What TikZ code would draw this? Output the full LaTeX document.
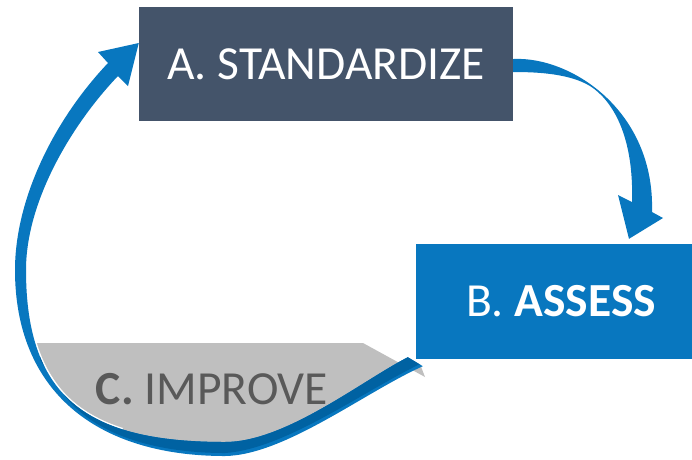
\documentclass[tikz,border=0pt]{standalone}
\usepackage{fontspec}
\setmainfont{Carlito}
\usetikzlibrary{calc}
\definecolor{slate}{HTML}{44546A}
\definecolor{flowblue}{HTML}{0877BF}
\definecolor{flowdark}{HTML}{0062A2}
\definecolor{improvegray}{HTML}{BFBFBF}
\definecolor{improvetext}{HTML}{595959}
\tikzset{
  stagefont/.style={font=\fontsize{47.5}{52}\selectfont},
  stagebox/.style={stagefont, inner sep=0pt, text=white},
  flowarrow/.style={fill=flowblue},
  flowside/.style={fill=flowdark},
  improvepanel/.style={fill=improvegray},
}
% outline of the return arc (B back to A), with its head
\def\returnband{(ca-out) .. controls (365,392) and (285,455) .. (225,456)
  .. controls (95,456) and (15,390) .. (15,270)
  .. controls (15,200) and (53,121) .. (108,63)
  -- (98,52) -- (ca-tip) -- (128,86) -- (118,76)
  .. controls (73,123) and (26,200) .. (26,270)
  .. controls (26,400) and (90,442) .. (225,442)
  .. controls (285,442) and (360,382) .. (ca-in) -- cycle}
\begin{document}
\begin{tikzpicture}[x=1pt,y=-1pt]
\useasboundingbox (0,0) rectangle (692,459);

% stage boxes
\node[stagebox, fill=slate, minimum width=374pt, minimum height=114pt] (A) at (326,64) {A. STANDARDIZE};
\node[stagebox, fill=flowblue, minimum width=276pt, minimum height=115pt] (B) at (554,301.5) {\hspace{14pt}B. \textbf{ASSESS}};

% end points of the two arrows
\coordinate (ab-top) at ($(A.east)+(0,-5)$);
\coordinate (ab-bot) at ($(A.east)+(0,8)$);
\coordinate (ab-tip) at ($(B.north)+(75,-5)$);
\coordinate (ca-in) at ($(B.south west)+(-8,-2)$);
\coordinate (ca-out) at ($(B.south west)+(7,7)$);
\coordinate (ca-tip) at ($(A.west)+(0,-21)$);

% grey panel resting in the return arc
\fill[improvepanel] (30,343) -- (363,343) -- (425,377) -- (420,364)
  .. controls (362,392) and (285,449) .. (225,453)
  .. controls (150,453) and (90,432) .. (62,392) -- cycle;
\node[stagefont, text=improvetext, inner sep=0pt] (C) at (212,389) {\textbf{C.} IMPROVE};

% A -> B : twisted ribbon arrow
\fill[flowarrow] (ab-top) .. controls (570,56) and (655,110) .. (652,212)
  -- (663,218) -- (ab-tip) -- (618,195) -- (632,202)
  .. controls (634,135) and (612,100) .. (590,86)
  .. controls (570,74) and (540,72) .. (ab-bot) -- cycle;

% thin white gap between the panel and the lower-left of the arc
\draw[white, line width=3pt] (26,270) .. controls (26,361) and (57.4,408.9) .. (122.5,429.4);

% B -> C -> A : return arc
\fill[flowarrow] \returnband;
% darker underside of its lower part
\begin{scope}
  \clip \returnband;
  \fill[flowside] (40,360) -- (62,392)
    .. controls (90,432) and (150,453) .. (225,453)
    .. controls (285,449) and (362,392) .. (420,364)
    -- (440,330) -- (40,330) -- cycle;
\end{scope}
\end{tikzpicture}
\end{document}
